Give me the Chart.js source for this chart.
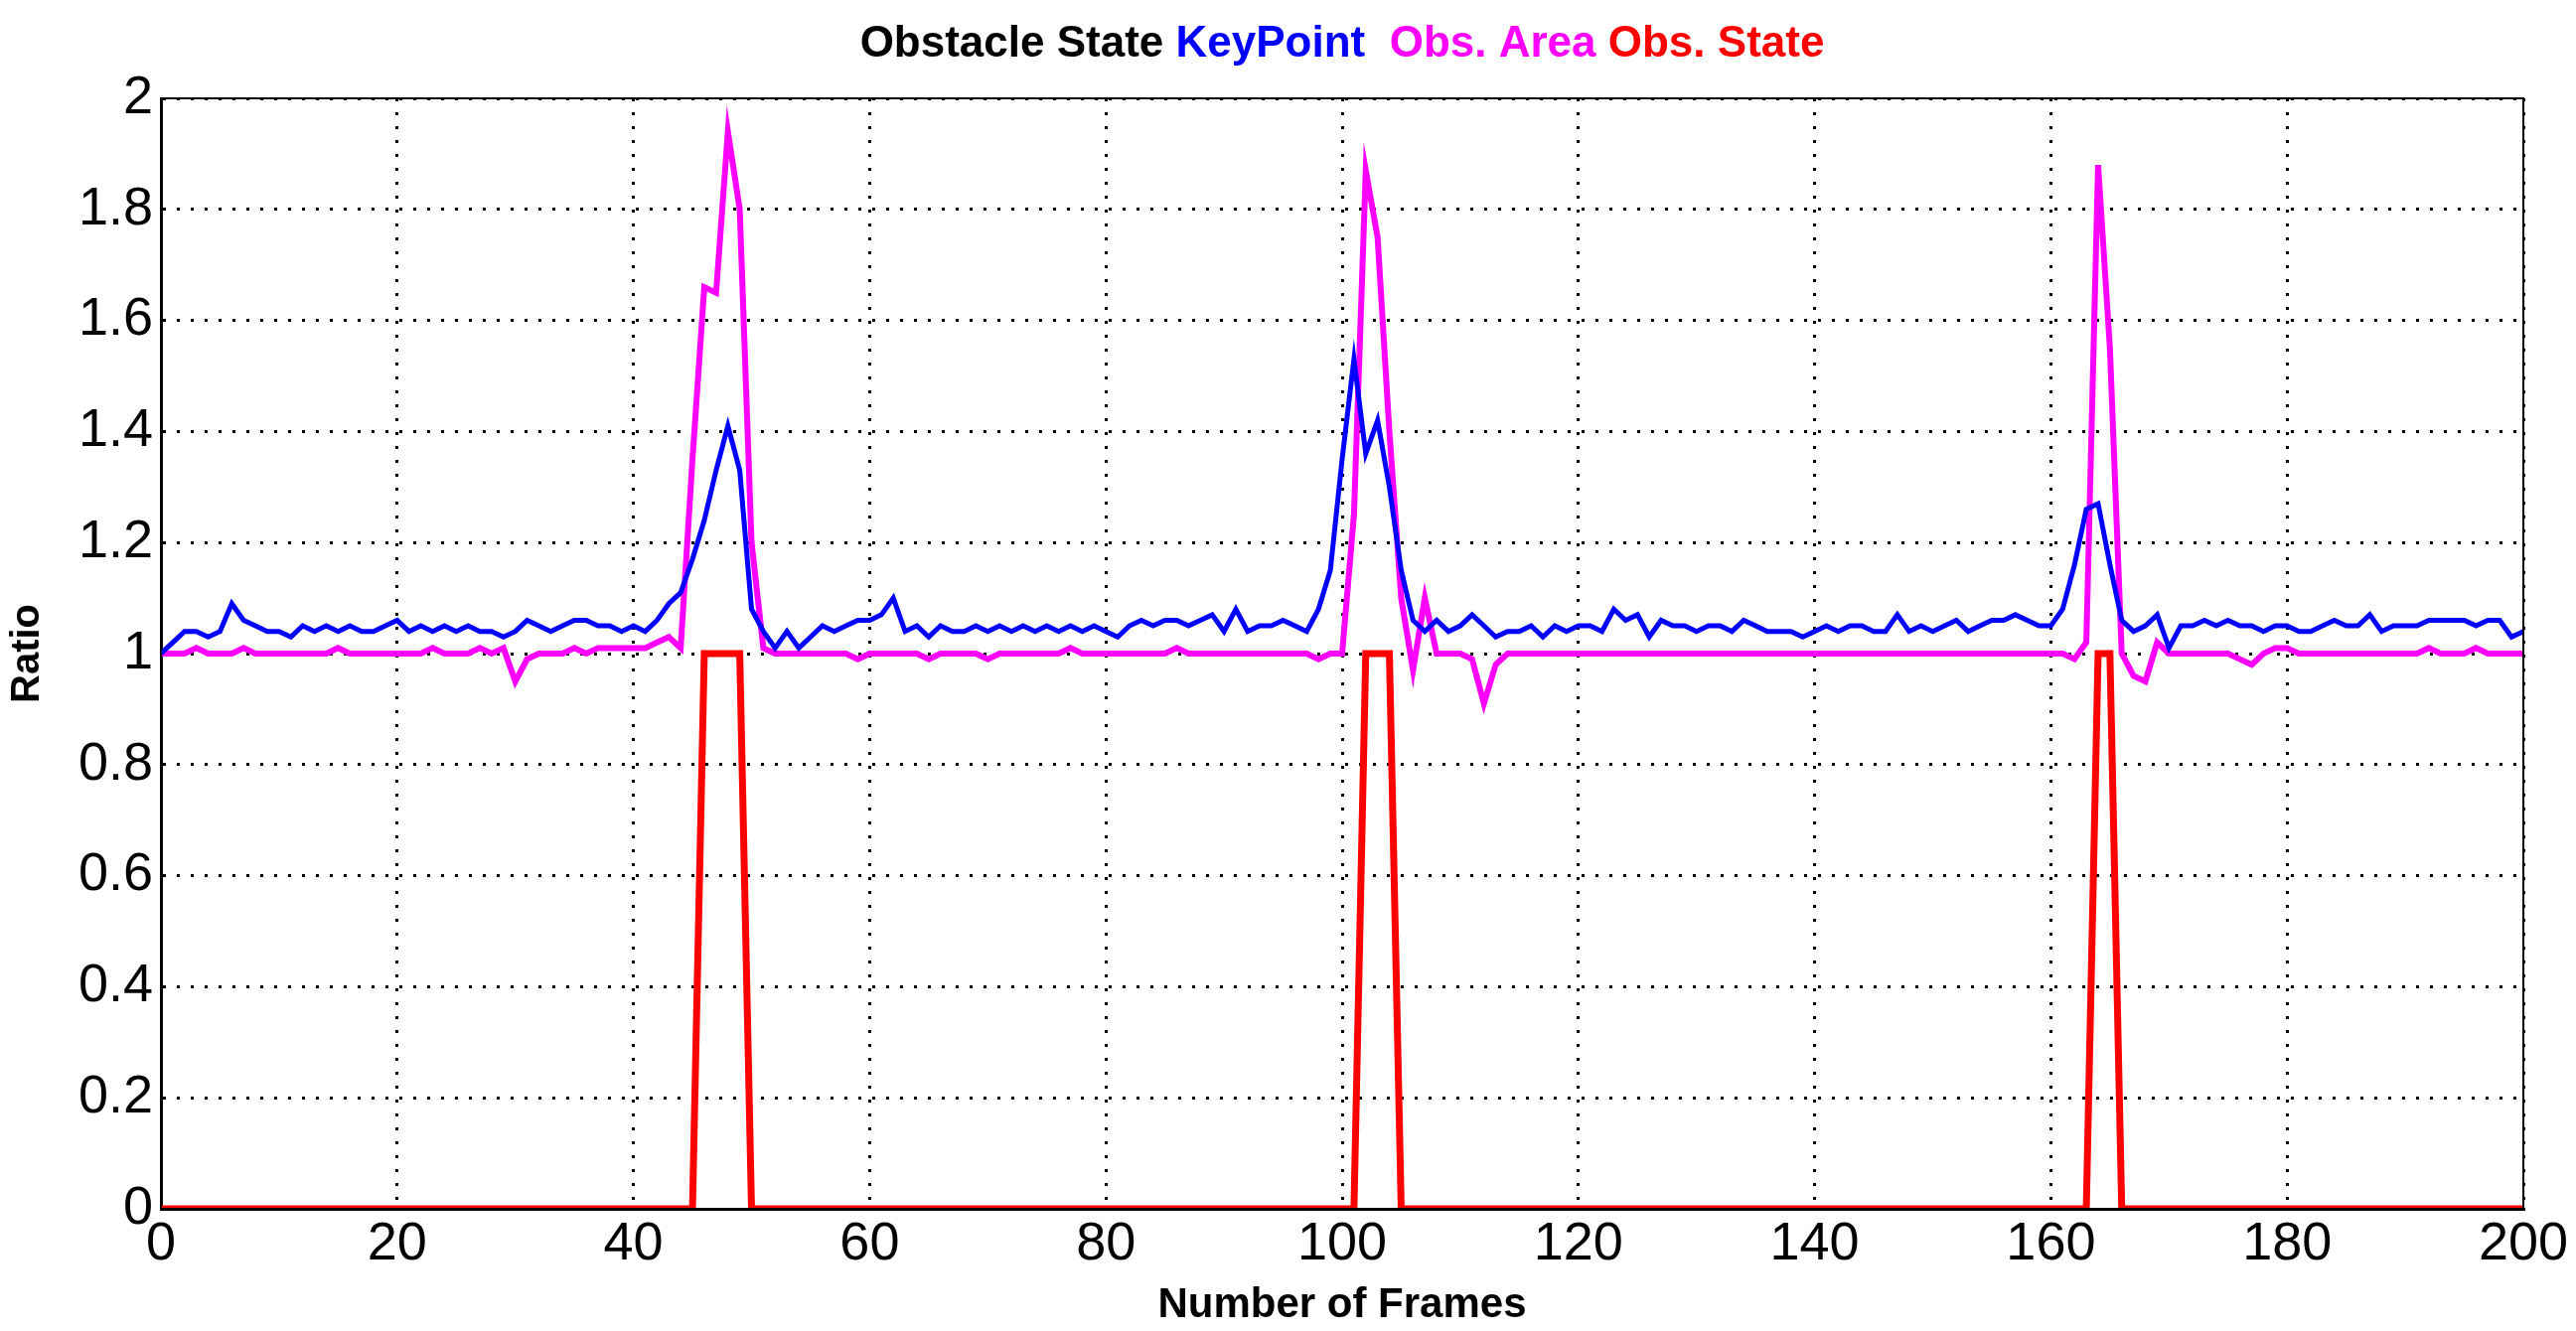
<!DOCTYPE html>
<html><head><meta charset="utf-8">
<script src="https://cdn.jsdelivr.net/npm/chart.js@4/dist/chart.umd.min.js"></script>
<style>html,body{margin:0;padding:0;background:#fff}#w{width:2593px;height:1340px}</style>
</head><body><div id="w"><canvas id="c"></canvas></div>
<script>
const titleParts = [["Obstacle State ","#000000"],["KeyPoint  ","#0000ff"],["Obs. Area ","#ff00ff"],["Obs. State","#ff0000"]];
const xTicks = [0,20,40,60,80,100,120,140,160,180,200];
const yTicks = [0,0.2,0.4,0.6,0.8,1,1.2,1.4,1.6,1.8,2];
const keyPoint = [1.00,1.02,1.04,1.04,1.03,1.04,1.09,1.06,1.05,1.04,1.04,1.03,1.05,1.04,1.05,1.04,1.05,1.04,1.04,1.05,1.06,1.04,1.05,1.04,1.05,1.04,1.05,1.04,1.04,1.03,1.04,1.06,1.05,1.04,1.05,1.06,1.06,1.05,1.05,1.04,1.05,1.04,1.06,1.09,1.11,1.17,1.24,1.33,1.41,1.33,1.08,1.04,1.01,1.04,1.01,1.03,1.05,1.04,1.05,1.06,1.06,1.07,1.10,1.04,1.05,1.03,1.05,1.04,1.04,1.05,1.04,1.05,1.04,1.05,1.04,1.05,1.04,1.05,1.04,1.05,1.04,1.03,1.05,1.06,1.05,1.06,1.06,1.05,1.06,1.07,1.04,1.08,1.04,1.05,1.05,1.06,1.05,1.04,1.08,1.15,1.35,1.53,1.36,1.42,1.30,1.15,1.06,1.04,1.06,1.04,1.05,1.07,1.05,1.03,1.04,1.04,1.05,1.03,1.05,1.04,1.05,1.05,1.04,1.08,1.06,1.07,1.03,1.06,1.05,1.05,1.04,1.05,1.05,1.04,1.06,1.05,1.04,1.04,1.04,1.03,1.04,1.05,1.04,1.05,1.05,1.04,1.04,1.07,1.04,1.05,1.04,1.05,1.06,1.04,1.05,1.06,1.06,1.07,1.06,1.05,1.05,1.08,1.16,1.26,1.27,1.16,1.06,1.04,1.05,1.07,1.01,1.05,1.05,1.06,1.05,1.06,1.05,1.05,1.04,1.05,1.05,1.04,1.04,1.05,1.06,1.05,1.05,1.07,1.04,1.05,1.05,1.05,1.06,1.06,1.06,1.06,1.05,1.06,1.06,1.03,1.04];
const obsArea = [1.00,1.00,1.00,1.01,1.00,1.00,1.00,1.01,1.00,1.00,1.00,1.00,1.00,1.00,1.00,1.01,1.00,1.00,1.00,1.00,1.00,1.00,1.00,1.01,1.00,1.00,1.00,1.01,1.00,1.01,0.95,0.99,1.00,1.00,1.00,1.01,1.00,1.01,1.01,1.01,1.01,1.01,1.02,1.03,1.01,1.35,1.66,1.65,1.94,1.80,1.20,1.01,1.00,1.00,1.00,1.00,1.00,1.00,1.00,0.99,1.00,1.00,1.00,1.00,1.00,0.99,1.00,1.00,1.00,1.00,0.99,1.00,1.00,1.00,1.00,1.00,1.00,1.01,1.00,1.00,1.00,1.00,1.00,1.00,1.00,1.00,1.01,1.00,1.00,1.00,1.00,1.00,1.00,1.00,1.00,1.00,1.00,1.00,0.99,1.00,1.00,1.25,1.87,1.75,1.40,1.10,0.97,1.10,1.00,1.00,1.00,0.99,0.91,0.98,1.00,1.00,1.00,1.00,1.00,1.00,1.00,1.00,1.00,1.00,1.00,1.00,1.00,1.00,1.00,1.00,1.00,1.00,1.00,1.00,1.00,1.00,1.00,1.00,1.00,1.00,1.00,1.00,1.00,1.00,1.00,1.00,1.00,1.00,1.00,1.00,1.00,1.00,1.00,1.00,1.00,1.00,1.00,1.00,1.00,1.00,1.00,1.00,0.99,1.02,1.88,1.55,1.00,0.96,0.95,1.02,1.00,1.00,1.00,1.00,1.00,1.00,0.99,0.98,1.00,1.01,1.01,1.00,1.00,1.00,1.00,1.00,1.00,1.00,1.00,1.00,1.00,1.00,1.01,1.00,1.00,1.00,1.01,1.00,1.00,1.00,1.00,1.00,0.99];
const obsStateOn = [46,47,48,49,102,103,104,164,165];
const frames = keyPoint.map((_, i) => i);
const obsState = frames.map(f => obsStateOn.includes(f) ? 1 : 0);

const tickFont = {family:"'Liberation Sans Narrow','Liberation Sans',Arial,sans-serif", size:54};
const titlePlugin = {id:'mtitle', afterDraw(ch){
  const ctx = ch.ctx; ctx.save();
  ctx.font = "bold 44px 'Liberation Sans',Arial,sans-serif";
  ctx.textBaseline = 'middle';
  const total = titleParts.reduce((s,p)=>s+ctx.measureText(p[0]).width,0);
  let x = (ch.chartArea.left+ch.chartArea.right)/2 - total/2;
  for (const [t,c] of titleParts){ctx.fillStyle=c;ctx.fillText(t,x,45);x+=ctx.measureText(t).width;}
  ctx.restore();
}};
const grid = {color:'#000', lineWidth:3, drawTicks:false};
const border = {display:true, color:'#000', width:3, dash:[3,11]};
new Chart(document.getElementById('c'), {
  type:'line',
  data:{labels:frames, datasets:[
    {label:'KeyPoint', data:keyPoint.map((v,i)=>({x:frames[i],y:v})), borderColor:'#0000ff', borderWidth:5},
    {label:'Obs. Area', data:obsArea.map((v,i)=>({x:frames[i],y:v})), borderColor:'#ff00ff', borderWidth:6},
    {label:'Obs. State', data:obsState.map((v,i)=>({x:frames[i],y:v})), borderColor:'#ff0000', borderWidth:7}
  ]},
  options:{responsive:true, maintainAspectRatio:false, animation:false,
    elements:{point:{radius:0}, line:{tension:0}},
    layout:{padding:{top:99,right:53,left:0,bottom:0}},
    plugins:{legend:{display:false}, tooltip:{enabled:false}},
    scales:{
      x:{type:'linear', min:0, max:200, afterFit(s){s.height=123;},
        afterBuildTicks(s){s.ticks=xTicks.map(v=>({value:v}));},
        ticks:{font:tickFont, color:'#000', padding:4, maxRotation:0},
        grid, border,
        title:{display:true, text:'Number of Frames', color:'#000', padding:0, font:{family:"'Liberation Sans',Arial,sans-serif", size:42, weight:'bold'}}},
      y:{min:0, max:2, afterFit(s){s.width=162;},
        afterBuildTicks(s){s.ticks=yTicks.map(v=>({value:v}));},
        ticks:{font:tickFont, color:'#000', padding:8, callback:v=>String(+v.toFixed(1))},
        grid, border,
        title:{display:true, text:'Ratio', color:'#000', padding:4, font:{family:"'Liberation Sans',Arial,sans-serif", size:40, weight:'bold'}}}
    }
  },
  plugins:[titlePlugin, {id:'frame', afterDraw(ch){const a=ch.chartArea,c=ch.ctx;c.save();c.strokeStyle='#000';c.lineWidth=2;c.strokeRect(a.left,a.top,a.right-a.left,a.bottom-a.top);c.restore();}}]
});
</script></body></html>
